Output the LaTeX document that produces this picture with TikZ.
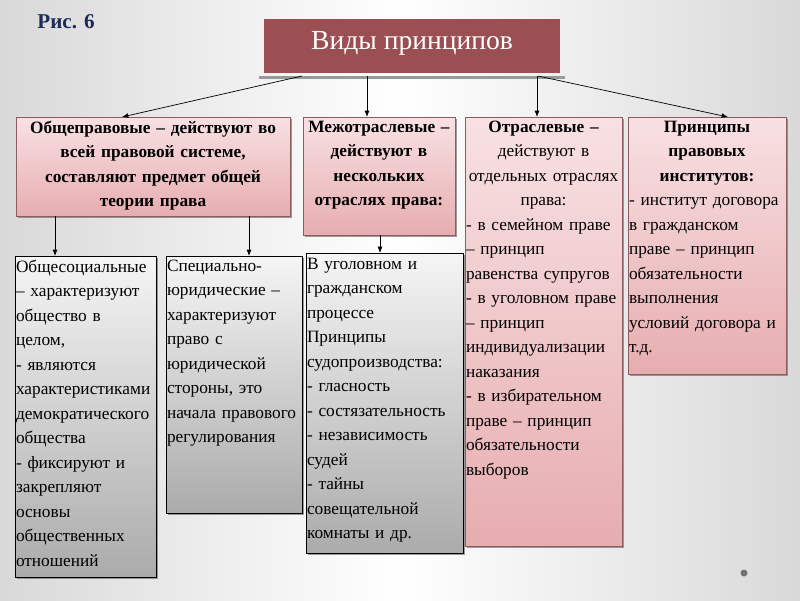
\documentclass[tikz,border=0pt]{standalone}
\usepackage{fontspec}
\setmainfont{Liberation Serif}
\usepackage{tikz}
\usetikzlibrary{arrows.meta}
\usetikzlibrary{shadows}
\usetikzlibrary{fit}

\definecolor{titlered}{HTML}{9B4F52}
\definecolor{pinktop}{HTML}{F8E1E3}
\definecolor{pinkbot}{HTML}{E7ADB0}
\definecolor{pinkline}{HTML}{8A5E60}
\definecolor{greytop}{HTML}{F5F5F5}
\definecolor{greybot}{HTML}{ABABAB}
\definecolor{navy}{HTML}{1F2B57}

\begin{document}
\begin{tikzpicture}[x=0.025cm, y=-0.025cm,
    every node/.style={inner sep=0pt, outer sep=0pt},
    shade box/.style={drop shadow={shadow xshift=1.6pt, shadow yshift=-1.6pt, opacity=0.7, fill=black!55}},
    pinkbox/.style={shade box, draw=pinkline, line width=0.6pt, top color=pinktop, bottom color=pinkbot},
    greybox/.style={shade box, draw=black, line width=0.6pt, top color=greytop, bottom color=greybot},
    txt/.style={anchor=north west, align=left, font=\fontsize{12.3}{17.4}\selectfont},
    head/.style={txt, align=center, font=\bfseries\fontsize{12.3}{17.4}\selectfont},
    arr/.style={-{Latex[length=4.5pt, width=3.5pt]}, line width=0.5pt}]
        % one unit is one pixel of the 800x600 slide
        \def\px{0.025cm}

        % Background of the slide
        \shade[left color=black!15, right color=black!15, middle color=white] (0,0) rectangle (800,600);
        \useasboundingbox (0,0) rectangle (800,600);

        \node[font=\bfseries\fontsize{15}{18}\selectfont, text=navy] (fig) at (66,22) {Рис. 6};

        % Title box with its grey bar below
        \node[fit={(259,76) (565,79)}, fill=black!40] (tbar) {};
        \node[fit={(264,19) (560,73)}, fill=titlered] (title) {};
        \node[text=white, font=\fontsize{19.6}{22}\selectfont] (titlet) at ([yshift=3*\px]title.center) {Виды принципов};

        % Second row: the four kinds
        \node[pinkbox, fit={(16,117) (290,216)}] (b1) {};
        \node[pinkbox, fit={(303,117) (455,235)}] (b2) {};
        \node[pinkbox, fit={(465,117) (622,546)}] (b3) {};
        \node[pinkbox, fit={(628,117) (786,374)}] (b4) {};

        \node[head, text width=270*\px] (b1t) at ([xshift=2*\px, yshift=-4*\px]b1.north west)
          {Общеправовые – действуют во\\ всей правовой системе,\\ составляют предмет общей\\ теории права};
        \node[head, text width=148*\px] (b2t) at ([xshift=2*\px, yshift=-4*\px]b2.north west)
          {Межотраслевые –\\ действуют в\\ нескольких\\ отраслях права:};
        \node[txt, text width=155*\px] (b3t) at ([xshift=1*\px, yshift=-4*\px]b3.north west)
          {{\centering\textbf{Отраслевые –}\\ действуют в\\ отдельных отраслях\\ права:\par}
           - в семейном праве\\ – принцип\\ равенства супругов\\ - в уголовном праве\\ – принцип\\
           индивидуализации\\ наказания\\ - в избирательном\\ праве – принцип\\ обязательности\\ выборов};
        \node[txt, text width=156*\px] (b4t) at ([xshift=1*\px, yshift=-4*\px]b4.north west)
          {{\centering\bfseries Принципы\\ правовых\\ институтов:\par}
           - институт договора\\ в гражданском\\ праве – принцип\\ обязательности\\ выполнения\\
           условий договора и\\ т.д.};

        % Third row: grey boxes
        \node[greybox, fit={(15,256) (156,577)}] (c1) {};
        \node[greybox, fit={(166,256) (302,513)}] (c2) {};
        \node[greybox, fit={(306,253) (463,553)}] (c3) {};

        \node[txt, text width=140*\px] (c1t) at ([xshift=1*\px, yshift=-4*\px]c1.north west)
          {Общесоциальные\\ – характеризуют\\ общество в\\ целом,\\ - являются\\ характеристиками\\
           демократического\\ общества\\ - фиксируют и\\ закрепляют\\ основы\\ общественных\\ отношений};
        \node[txt, text width=135*\px] (c2t) at ([xshift=1*\px, yshift=-4*\px]c2.north west)
          {Специально-\\ юридические –\\ характеризуют\\ право с\\ юридической\\ стороны, это\\
           начала правового\\ регулирования};
        \node[txt, text width=156*\px] (c3t) at ([xshift=1*\px, yshift=-5*\px]c3.north west)
          {В уголовном и\\ гражданском\\ процессе\\ Принципы\\ судопроизводства:\\ - гласность\\
           - состязательность\\ - независимость\\ судей\\ - тайны\\ совещательной\\ комнаты и др.};

        % Arrows from the title
        \draw[arr] ([xshift=-110*\px, yshift=-3*\px]title.south) -- ([xshift=-31*\px]b1.north);
        \draw[arr] ([xshift=-45*\px, yshift=-3*\px]title.south) -- ([xshift=-12*\px]b2.north);
        \draw[arr] ([xshift=125*\px, yshift=-3*\px]title.south) -- ([xshift=-6.5*\px]b3.north);
        \draw[arr] ([xshift=126*\px, yshift=-3*\px]title.south) -- ([xshift=21*\px]b4.north);

        % Arrows to the grey boxes
        \draw[arr] ([xshift=-98*\px]b1.south) -- ([xshift=-98*\px]b1.south |- c1.north);
        \draw[arr] ([xshift=96*\px]b1.south) -- ([xshift=96*\px]b1.south |- c2.north);
        \draw[arr] ([xshift=1*\px]b2.south) -- ([xshift=1*\px]b2.south |- c3.north);

        \fill[black!55] (744,573) circle (3.5);
      \end{tikzpicture}
\end{document}
